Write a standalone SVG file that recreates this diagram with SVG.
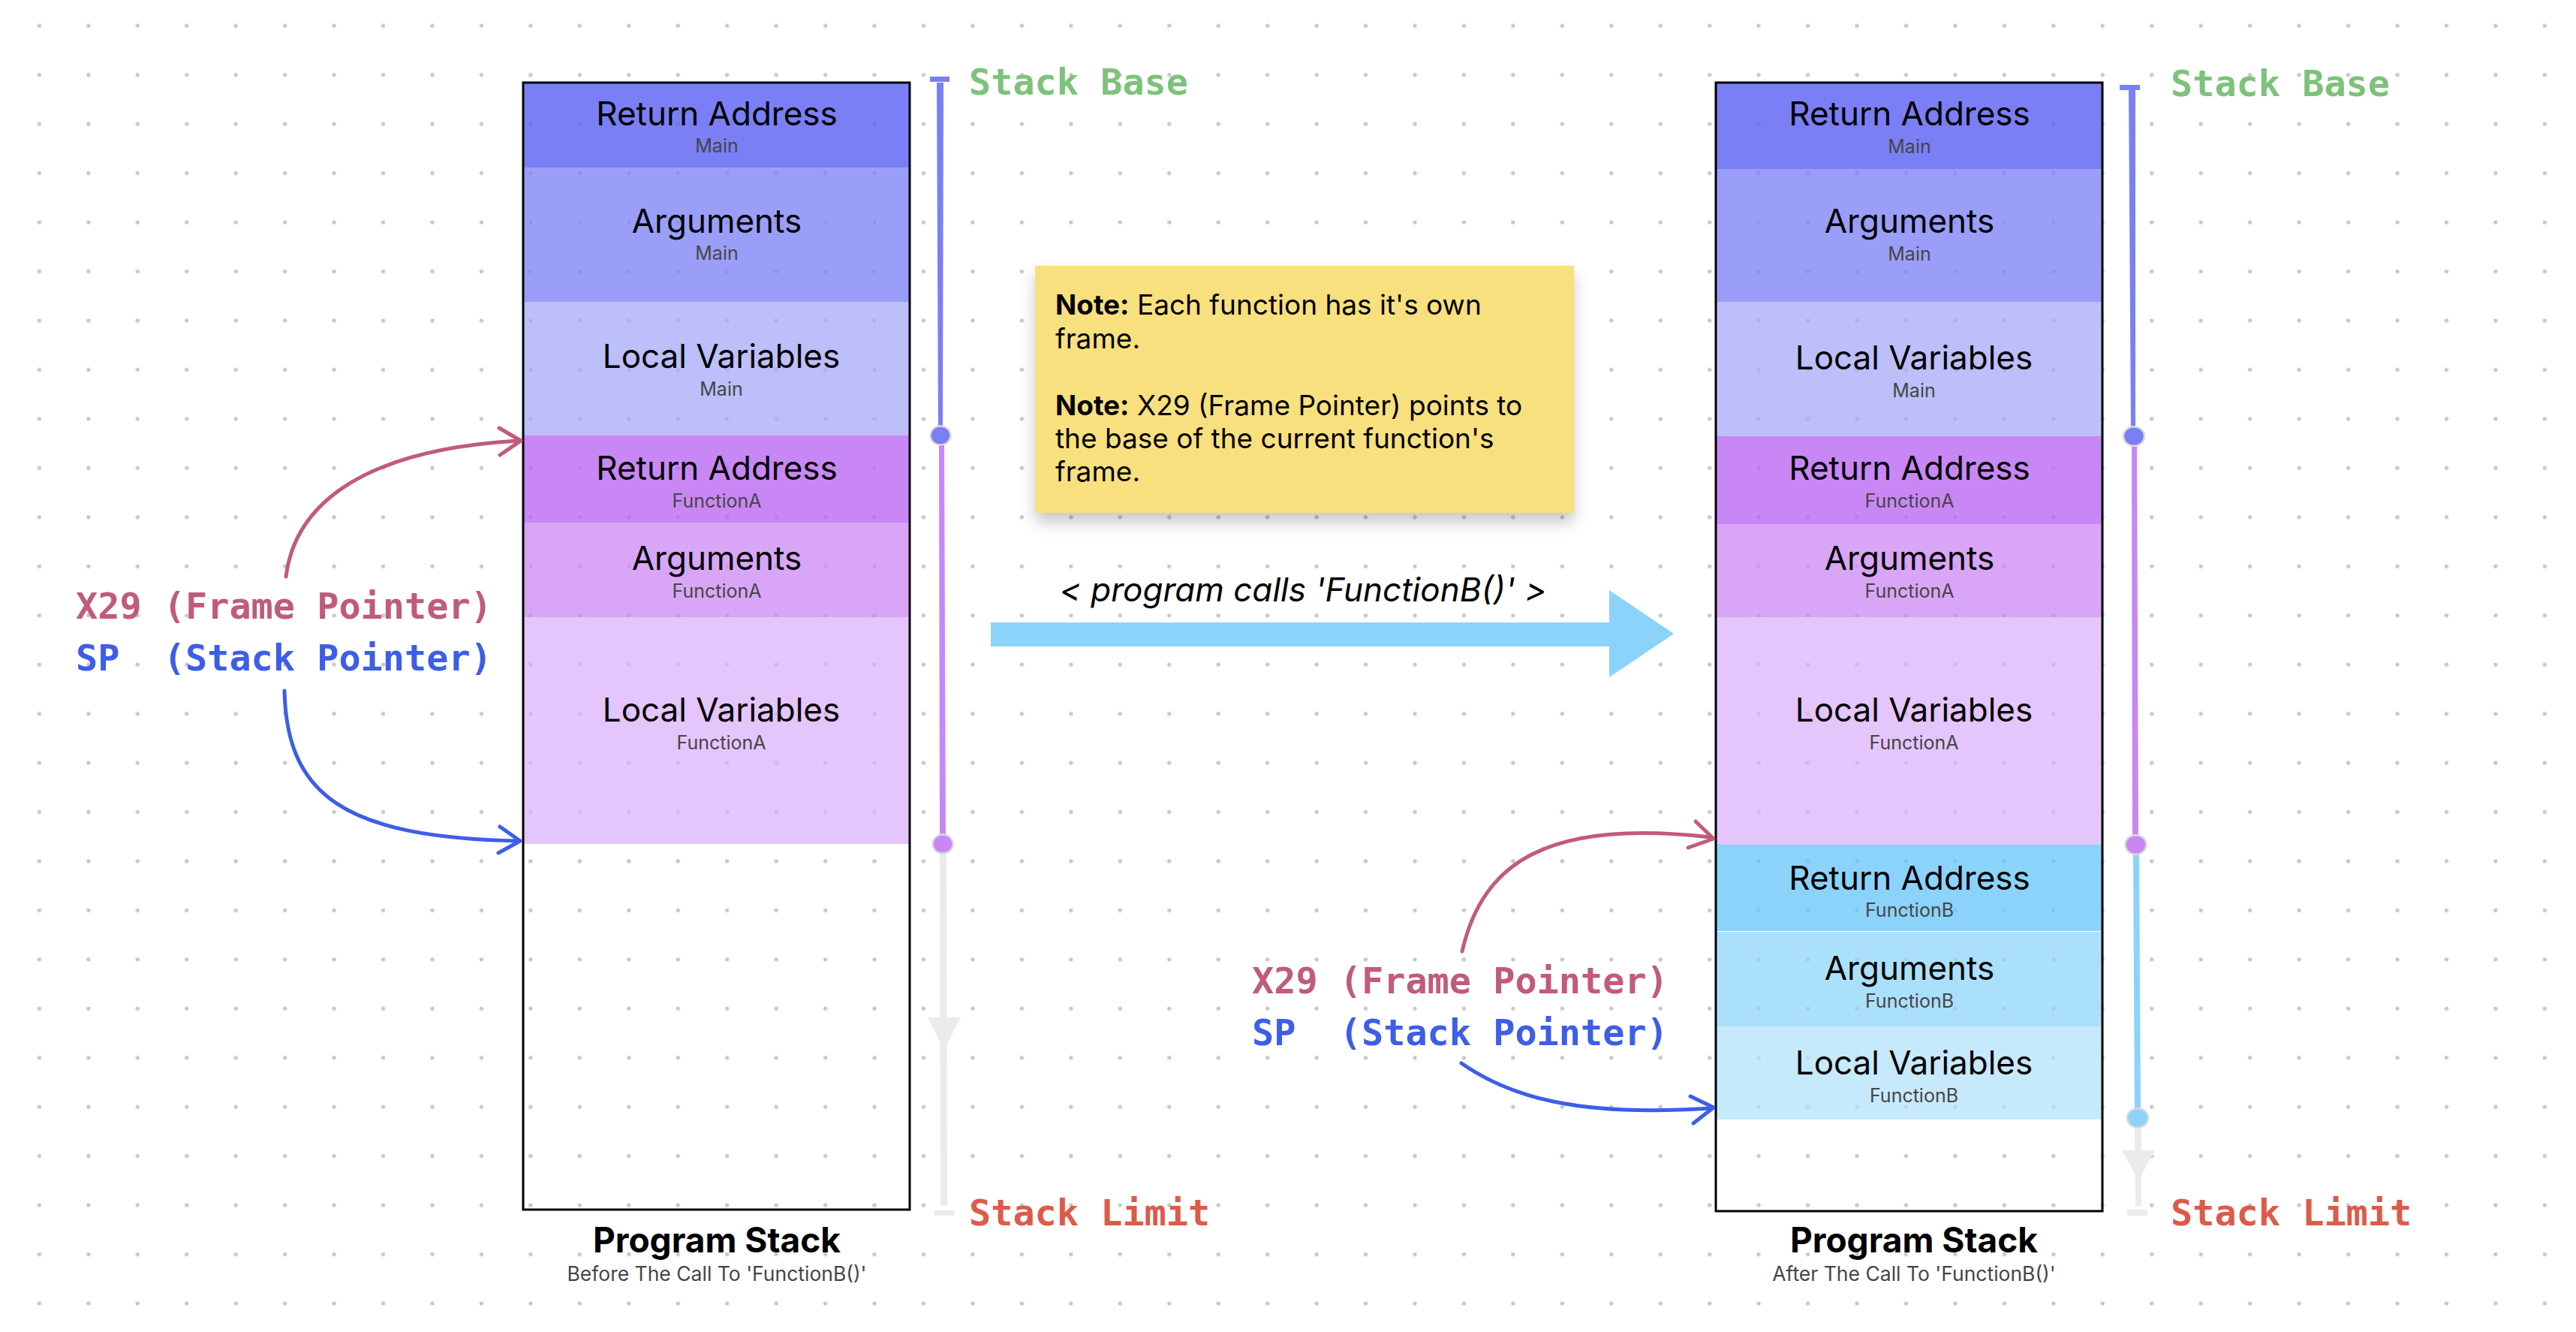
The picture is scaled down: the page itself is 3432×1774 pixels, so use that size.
<svg xmlns="http://www.w3.org/2000/svg" width="3432" height="1774" viewBox="0 0 3432 1774">
<style>
.t{font-family:Inter,"Liberation Sans",sans-serif;font-size:44px;fill:#000;text-anchor:middle}
.s{font-family:Inter,"Liberation Sans",sans-serif;font-size:25px;fill:#454545;text-anchor:middle}
.m{font-family:"DejaVu Sans Mono","Liberation Mono",monospace;font-weight:bold;font-size:48.5px;white-space:pre}
.fp{fill:#c15b7a}
.sp{fill:#3d5ee8}
.base{fill:#7dc27a}
.lim{fill:#dc5b4a}
.box{fill:none;stroke:#000;stroke-width:3}
.note{font-family:Inter,"Liberation Sans",sans-serif;font-size:37px;fill:#000}
.ttl{font-family:Inter,"Liberation Sans",sans-serif;font-size:46px;font-weight:bold;fill:#000;text-anchor:middle}
.cap{font-family:Inter,"Liberation Sans",sans-serif;font-size:26.5px;fill:#454545;text-anchor:middle}
.curve{fill:none;stroke-width:5;stroke-linecap:round;stroke-linejoin:round}
.dot{stroke:#dadada;stroke-width:2.5}
</style>
<defs>
<pattern id="grid" x="19.7" y="1.6" width="65.45" height="65.45" patternUnits="userSpaceOnUse">
<circle cx="32.7" cy="32.7" r="2.7" fill="#c8c8c8"/>
</pattern>
<pattern id="gridFaint" x="19.7" y="1.6" width="65.45" height="65.45" patternUnits="userSpaceOnUse">
<circle cx="32.7" cy="32.7" r="2.7" fill="#000" fill-opacity="0.07"/>
</pattern>
<filter id="shadow" x="-10%" y="-10%" width="120%" height="130%">
<feDropShadow dx="0" dy="12" stdDeviation="10" flood-color="#000" flood-opacity="0.22"/>
</filter>
</defs>
<rect width="3432" height="1774" fill="#fff"/>
<rect width="3432" height="1774" fill="url(#grid)"/>

<g id="stack-before">
<g id="b-ra-main"><rect x="697" y="110" width="515" height="113" fill="#7b7ff5"/><text class="t" x="955" y="167">Return Address</text><text class="s" x="955" y="203">Main</text></g>
<g id="b-args-main"><rect x="697" y="223" width="515" height="179" fill="#9a9ef8"/><text class="t" x="955" y="310">Arguments</text><text class="s" x="955" y="346">Main</text></g>
<g id="b-lv-main"><rect x="697" y="402" width="515" height="178" fill="#bcbff9"/><text class="t" x="961" y="490">Local Variables</text><text class="s" x="961" y="527">Main</text></g>
<g id="b-ra-a"><rect x="697" y="580" width="515" height="116" fill="#c987f5"/><text class="t" x="955" y="639">Return Address</text><text class="s" x="955" y="676">FunctionA</text></g>
<g id="b-args-a"><rect x="697" y="696" width="515" height="126" fill="#d8a5f7"/><text class="t" x="955" y="759">Arguments</text><text class="s" x="955" y="796">FunctionA</text></g>
<g id="b-lv-a"><rect x="697" y="822" width="515" height="302" fill="#e4c5fc"/><text class="t" x="961" y="961">Local Variables</text><text class="s" x="961" y="998">FunctionA</text></g>
<rect x="697" y="110" width="515" height="1014" fill="url(#gridFaint)"/>
<rect class="box" x="697" y="110" width="515" height="1501"/>
<text class="ttl" x="955" y="1668">Program Stack</text>
<text class="cap" x="955" y="1706">Before The Call To 'FunctionB()'</text>
</g>

<g id="stack-after">
<g id="a-ra-main"><rect x="2286" y="110" width="515" height="115" fill="#7b7ff5"/><text class="t" x="2544" y="167">Return Address</text><text class="s" x="2544" y="204">Main</text></g>
<g id="a-args-main"><rect x="2286" y="225" width="515" height="177" fill="#9a9ef8"/><text class="t" x="2544" y="310">Arguments</text><text class="s" x="2544" y="347">Main</text></g>
<g id="a-lv-main"><rect x="2286" y="402" width="515" height="179" fill="#bcbff9"/><text class="t" x="2550" y="492">Local Variables</text><text class="s" x="2550" y="529">Main</text></g>
<g id="a-ra-a"><rect x="2286" y="581" width="515" height="117" fill="#c987f5"/><text class="t" x="2544" y="639">Return Address</text><text class="s" x="2544" y="676">FunctionA</text></g>
<g id="a-args-a"><rect x="2286" y="698" width="515" height="124" fill="#d8a5f7"/><text class="t" x="2544" y="759">Arguments</text><text class="s" x="2544" y="796">FunctionA</text></g>
<g id="a-lv-a"><rect x="2286" y="822" width="515" height="303" fill="#e4c5fc"/><text class="t" x="2550" y="961">Local Variables</text><text class="s" x="2550" y="998">FunctionA</text></g>
<g id="a-ra-b"><rect x="2286" y="1125" width="515" height="115" fill="#8bd3fb"/><text class="t" x="2544" y="1185">Return Address</text><text class="s" x="2544" y="1221">FunctionB</text></g>
<g id="a-args-b"><rect x="2286" y="1241" width="515" height="126" fill="#abe0fa"/><text class="t" x="2544" y="1305">Arguments</text><text class="s" x="2544" y="1342">FunctionB</text></g>
<g id="a-lv-b"><rect x="2286" y="1367" width="515" height="124" fill="#c7e9fc"/><text class="t" x="2550" y="1431">Local Variables</text><text class="s" x="2550" y="1468">FunctionB</text></g>
<rect x="2286" y="110" width="515" height="1381" fill="url(#gridFaint)"/>
<rect class="box" x="2286" y="110" width="515" height="1503"/>
<text class="ttl" x="2550" y="1668">Program Stack</text>
<text class="cap" x="2550" y="1706">After The Call To 'FunctionB()'</text>
</g>

<g id="timeline-before">
<rect x="1239" y="102" width="26" height="7" fill="#7b7ff5"/>
<polygon points="1248,110 1257,110 1256,570 1250,570" fill="#7b7ff5"/>
<polygon points="1251,592 1258,592 1260,1112 1252,1112" fill="#c987f5"/>
<polygon points="1252,1136 1261,1136 1262,1606 1253,1606" fill="#ebebeb"/>
<polygon points="1236,1355 1280,1355 1258,1398" fill="#ebebeb"/>
<rect x="1245" y="1612" width="27" height="7" fill="#ebebeb"/>
<ellipse class="dot" cx="1253" cy="580" rx="13.5" ry="12.5" fill="#7b7ff5"/>
<ellipse class="dot" cx="1256" cy="1124" rx="13.5" ry="12.5" fill="#c987f5"/>
<text class="m base" x="1291" y="126">Stack Base</text>
<text class="m lim" x="1291" y="1632">Stack Limit</text>
</g>

<g id="timeline-after">
<rect x="2824" y="113" width="27" height="7" fill="#7b7ff5"/>
<polygon points="2836,120 2845,120 2845,570 2839,570" fill="#7b7ff5"/>
<polygon points="2840,593 2847,593 2849,1113 2841,1113" fill="#c987f5"/>
<polygon points="2842,1137 2850,1137 2852,1477 2844,1477" fill="#8bd3fb"/>
<polygon points="2844,1501 2853,1501 2853,1606 2845,1606" fill="#ebebeb"/>
<polygon points="2827,1532 2871,1532 2849,1572" fill="#ebebeb"/>
<rect x="2834" y="1611" width="27" height="8" fill="#ebebeb"/>
<ellipse class="dot" cx="2843" cy="581" rx="14" ry="12.8" fill="#7b7ff5"/>
<ellipse class="dot" cx="2845.5" cy="1125" rx="14" ry="12.8" fill="#c987f5"/>
<ellipse class="dot" cx="2848" cy="1489" rx="14" ry="12.8" fill="#8bd3fb"/>
<text class="m base" x="2892" y="128">Stack Base</text>
<text class="m lim" x="2892" y="1632">Stack Limit</text>
</g>

<g id="note">
<rect x="1379" y="354" width="718" height="329" fill="#f9e07e" filter="url(#shadow)"/>
<text class="note" x="1406" y="419"><tspan font-weight="bold">Note:</tspan> Each function has it's own</text>
<text class="note" x="1406" y="464">frame.</text>
<text class="note" x="1406" y="553"><tspan font-weight="bold">Note:</tspan> X29 (Frame Pointer) points to</text>
<text class="note" x="1406" y="597">the base of the current function's</text>
<text class="note" x="1406" y="641">frame.</text>
</g>

<g id="pointer-labels-before">
<text class="m fp" x="101" y="824">X29 (Frame Pointer)</text>
<text class="m sp" x="101" y="893">SP  (Stack Pointer)</text>
</g>
<g id="pointer-labels-after">
<text class="m fp" x="1668" y="1323">X29 (Frame Pointer)</text>
<text class="m sp" x="1668" y="1392">SP  (Stack Pointer)</text>
</g>

<g id="connectors">
<g id="call-arrow">
<polygon points="1320,829 2144,829 2144,786 2230,844 2144,902 2144,861 1320,861" fill="#8bd3fb"/>
<text x="1736" y="801" font-family="Inter,'Liberation Sans',sans-serif" font-size="44" font-style="italic" text-anchor="middle" fill="#000">&lt; program calls 'FunctionB()' &gt;</text>
</g>
<path class="curve" stroke="#c15b7a" d="M381 768 C392 680 470 600 690 587"/>
<path class="curve" stroke="#c15b7a" d="M665 570 L694 587 L666 606"/>
<path class="curve" stroke="#3d5ee8" d="M379 920 C382 1060 460 1115 690 1120"/>
<path class="curve" stroke="#3d5ee8" d="M666 1101 L693 1120 L664 1136"/>
<path class="curve" stroke="#c15b7a" d="M1948 1267 C1975 1150 2060 1090 2278 1115"/>
<path class="curve" stroke="#c15b7a" d="M2259 1094 L2283 1117 L2249 1129"/>
<path class="curve" stroke="#3d5ee8" d="M1947 1416 C2010 1460 2100 1488 2278 1476"/>
<path class="curve" stroke="#3d5ee8" d="M2252 1460 L2283 1475 L2256 1496"/>
</g>
</svg>
